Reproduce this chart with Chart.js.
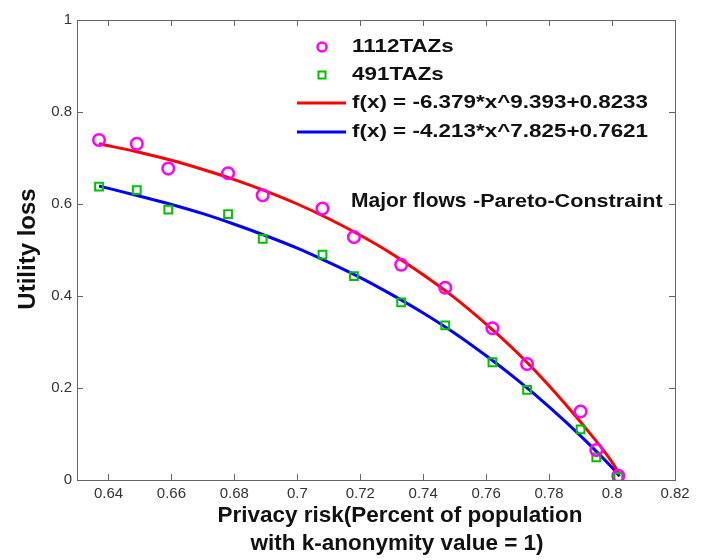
<!DOCTYPE html>
<html lang="en">
<head>
  <meta charset="UTF-8" />
  <title>Utility loss vs privacy risk</title>
  <script src="https://cdn.jsdelivr.net/npm/chart.js"></script>
  <style>
    body {
      margin: 0;
      padding: 0;
      background-color: #ffffff;
    }
    .wrap {
      width: 704px;
      height: 560px;
    }
  </style>
</head>
<body>
  <div class="wrap">
    <canvas id="paretoChart" width="704" height="560"></canvas>
  </div>

  <script>
    // x = privacy risk, y = utility loss
    const taz1112X = [0.637, 0.649, 0.659, 0.678, 0.689, 0.708, 0.718, 0.733, 0.747, 0.762, 0.773, 0.790, 0.795, 0.802];
    const taz1112Y = [0.739, 0.731, 0.677, 0.667, 0.619, 0.590, 0.528, 0.468, 0.418, 0.330, 0.252, 0.149, 0.065, 0.009];
    const taz491X = [0.637, 0.649, 0.659, 0.678, 0.689, 0.708, 0.718, 0.733, 0.747, 0.762, 0.773, 0.790, 0.795, 0.802];
    const taz491Y = [0.638, 0.630, 0.588, 0.578, 0.524, 0.490, 0.443, 0.386, 0.336, 0.256, 0.196, 0.110, 0.049, 0.007];

    // fitted curves, sampled along the x axis
    const fitX = [0.637, 0.65, 0.66, 0.67, 0.68, 0.69, 0.70, 0.71, 0.72, 0.73, 0.74, 0.75, 0.76, 0.77, 0.78, 0.79, 0.80, 0.8024];
    const fit1112 = [0.731, 0.712, 0.695, 0.675, 0.653, 0.628, 0.600, 0.568, 0.532, 0.492, 0.446, 0.396, 0.339, 0.276, 0.205, 0.126, 0.039, 0.012];
    const fit491 = [0.639, 0.617, 0.599, 0.579, 0.556, 0.531, 0.504, 0.473, 0.440, 0.403, 0.363, 0.319, 0.270, 0.217, 0.159, 0.096, 0.027, 0.008];

    const xTicks = [0.64, 0.66, 0.68, 0.7, 0.72, 0.74, 0.76, 0.78, 0.8, 0.82];
    const yTicks = [0, 0.2, 0.4, 0.6, 0.8, 1];

    const seriesNames = ['1112TAZs', '491TAZs', 'f(x) = -6.379*x^9.393+0.8233', 'f(x) = -4.213*x^7.825+0.7621'];

    const toPoints = (xs, ys) => xs.map((x, i) => ({ x: x, y: ys[i] }));

    const FONT = "'Liberation Sans', Arial, sans-serif";

    // text drawn a bit wider than the font, like the source image
    function wideText(ctx, text, x, y, sx) {
      ctx.save();
      ctx.translate(x, y);
      ctx.scale(sx, 1);
      ctx.fillText(text, 0, 0);
      ctx.restore();
    }

    // box + inward ticks on all four sides, MATLAB style
    const boxPlugin = {
      id: 'box',
      afterDatasetsDraw(chart) {
        const { ctx, chartArea: a, scales } = chart;
        ctx.save();
        ctx.strokeStyle = '#666';
        ctx.lineWidth = 1;
        ctx.strokeRect(a.left + 0.5, a.top + 0.5, a.right - a.left, a.bottom - a.top);
        ctx.beginPath();
        xTicks.forEach(v => {
          const px = Math.round(scales.x.getPixelForValue(v)) + 0.5;
          ctx.moveTo(px, a.bottom); ctx.lineTo(px, a.bottom - 6);
          ctx.moveTo(px, a.top); ctx.lineTo(px, a.top + 6);
        });
        yTicks.forEach(v => {
          const py = Math.round(scales.y.getPixelForValue(v)) + 0.5;
          ctx.moveTo(a.left, py); ctx.lineTo(a.left + 6, py);
          ctx.moveTo(a.right, py); ctx.lineTo(a.right - 6, py);
        });
        ctx.stroke();
        ctx.restore();
      },
      afterDraw(chart) {
        const { ctx } = chart;
        const ds = chart.data.datasets;
        ctx.save();
        ctx.textBaseline = 'middle';
        ctx.textAlign = 'left';
        ctx.fillStyle = '#111';

        // legend
        const rows = [47, 75, 103, 132];
        const tx = 352;
        ctx.strokeStyle = ds[0].borderColor;
        ctx.lineWidth = 2.5;
        ctx.beginPath();
        ctx.arc(322, rows[0], 4.5, 0, Math.PI * 2);
        ctx.stroke();
        ctx.strokeStyle = ds[1].borderColor;
        ctx.lineWidth = 2;
        ctx.strokeRect(318.5, rows[1] - 3.5, 7, 7);
        [2, 3].forEach(i => {
          ctx.strokeStyle = ds[i].borderColor;
          ctx.lineWidth = 3;
          ctx.beginPath();
          ctx.moveTo(297, rows[i]);
          ctx.lineTo(346, rows[i]);
          ctx.stroke();
        });
        ctx.font = 'bold 19px ' + FONT;
        seriesNames.forEach((name, i) => wideText(ctx, name, tx, rows[i], 1.18));

        // annotation
        ctx.font = 'bold 21px ' + FONT;
        ctx.fillText('Major flows', 351, 201);
        ctx.font = 'bold 18px ' + FONT;
        wideText(ctx, '-Pareto-Constraint', 473, 202, 1.2);

        // axis titles
        ctx.font = 'bold 22.5px ' + FONT;
        ctx.textAlign = 'center';
        ctx.fillText('Privacy risk(Percent of population', 400, 516);
        ctx.fillText('with k-anonymity value = 1)', 397, 544);
        ctx.font = 'bold 24px ' + FONT;
        ctx.translate(28, 249);
        ctx.rotate(-Math.PI / 2);
        ctx.fillText('Utility loss', 0, 0);
        ctx.restore();
      }
    };

    const ctx = document.getElementById('paretoChart').getContext('2d');
    new Chart(ctx, {
      type: 'scatter',
      data: {
        datasets: [
          {
            label: seriesNames[0],
            data: toPoints(taz1112X, taz1112Y),
            pointStyle: 'circle',
            pointRadius: 5.8,
            borderWidth: 2.5,
            borderColor: '#ff00ff',
            backgroundColor: 'rgba(0,0,0,0)'
          },
          {
            label: seriesNames[1],
            data: toPoints(taz491X, taz491Y),
            pointStyle: 'rect',
            pointRadius: 5.5,
            borderWidth: 2,
            borderColor: '#00c000',
            backgroundColor: 'rgba(0,0,0,0)'
          },
          {
            label: seriesNames[2],
            data: toPoints(fitX, fit1112),
            showLine: true,
            pointRadius: 0,
            borderWidth: 3,
            borderColor: '#ff0000',
            cubicInterpolationMode: 'monotone'
          },
          {
            label: seriesNames[3],
            data: toPoints(fitX, fit491),
            showLine: true,
            pointRadius: 0,
            borderWidth: 3,
            borderColor: '#0000ff',
            cubicInterpolationMode: 'monotone'
          }
        ]
      },
      options: {
        responsive: false,
        animation: false,
        layout: { padding: { left: 0, right: 29, top: 20, bottom: 0 } },
        plugins: {
          legend: { display: false },
          tooltip: { enabled: false }
        },
        scales: {
          x: {
            type: 'linear',
            min: 0.63,
            max: 0.82,
            grid: { display: false, drawTicks: false },
            border: { display: false },
            afterBuildTicks: s => { s.ticks = xTicks.map(v => ({ value: v })); },
            afterFit: s => { s.height = 80; },
            ticks: {
              padding: 5,
              color: '#333',
              font: { family: FONT, size: 15 },
              callback: v => String(+v.toFixed(2))
            }
          },
          y: {
            type: 'linear',
            min: 0,
            max: 1,
            grid: { display: false, drawTicks: false },
            border: { display: false },
            afterBuildTicks: s => { s.ticks = yTicks.map(v => ({ value: v })); },
            afterFit: s => { s.width = 77; },
            ticks: {
              padding: 5,
              color: '#333',
              font: { family: FONT, size: 15 },
              callback: v => String(+v.toFixed(1))
            }
          }
        }
      },
      plugins: [boxPlugin]
    });
  </script>
</body>
</html>
